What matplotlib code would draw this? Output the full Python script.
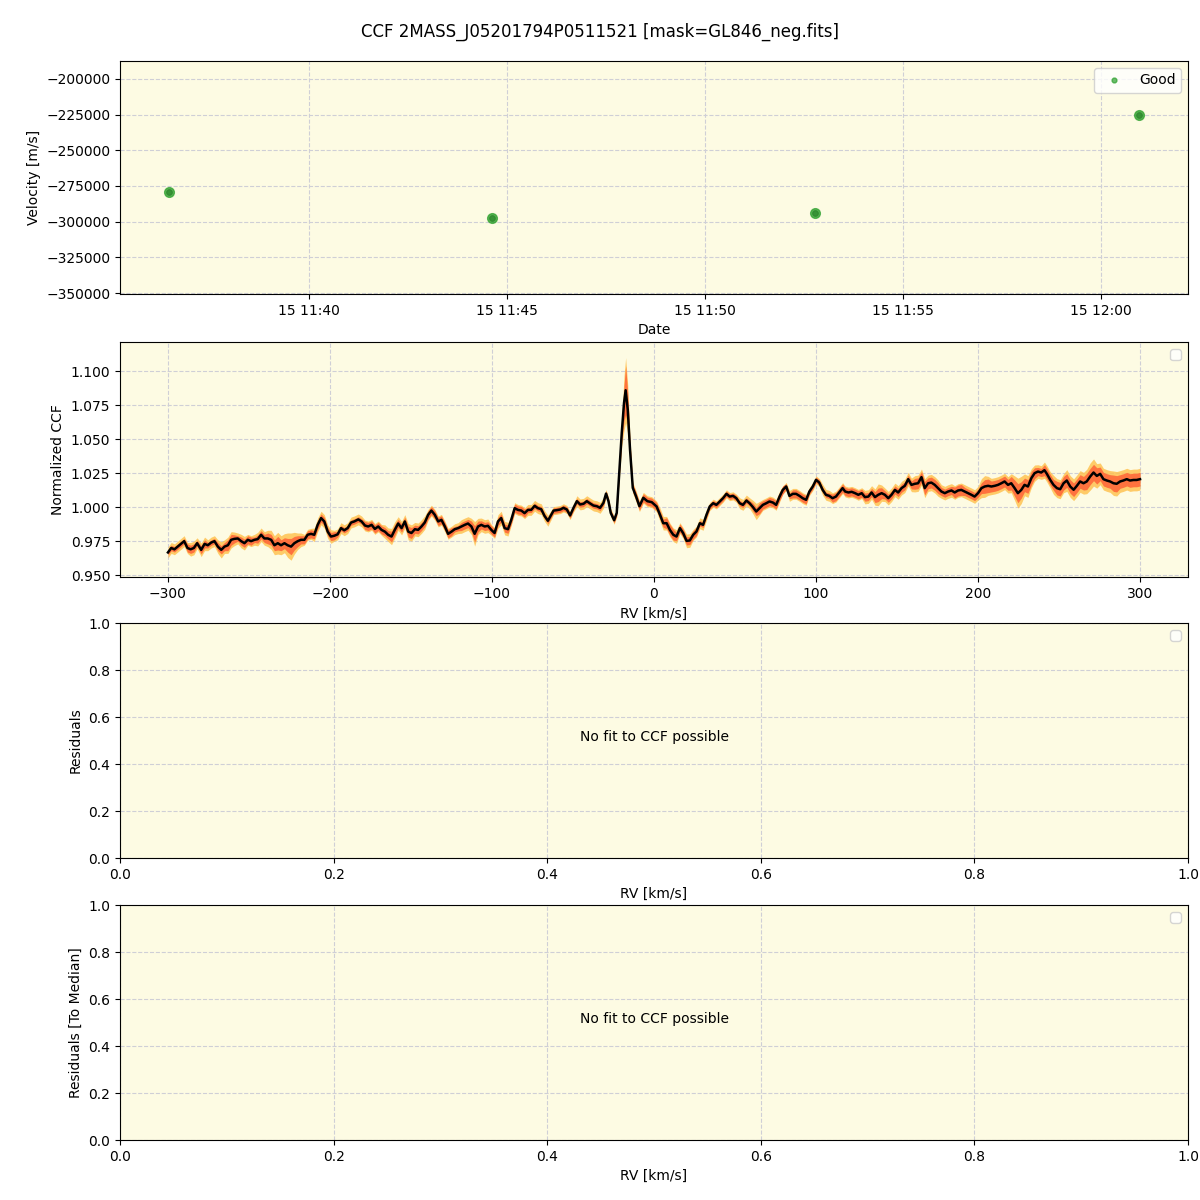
import datetime as dt
import warnings
import matplotlib
matplotlib.use("Agg")
import matplotlib.pyplot as plt
import matplotlib.dates as mdates
import numpy as np

title = "CCF 2MASS_J05201794P0511521 [mask=GL846_neg.fits]"

obs_times = ["2023-01-15 11:36:28", "2023-01-15 11:44:37",
             "2023-01-15 11:52:47", "2023-01-15 12:00:58"]
velocities = [-279200, -297400, -294000, -225200]

rv = [-300, -298, -296, -294, -292, -290, -288, -286, -284, -282, -279.5, -277.4, -275.4, -273.3, -271.3,
      -269.2, -267.1, -265.1, -263, -261, -259, -256.9, -254.8, -252.8, -250.7, -248.7, -246.6, -244.6,
      -242.5, -240.5, -238.4, -236.3, -234.3, -232.2, -230.2, -228.1, -226.1, -224, -222, -219.9, -217.9,
      -215.8, -213.8, -211.7, -209.7, -207.6, -205.5, -203.5, -201.4, -199.4, -197.3, -195.3, -193.2,
      -191.2, -189.1, -187, -185,
      -182.5, -180.5, -178.4, -176.4, -174.3, -172.3, -170.2, -168.2, -166.1, -164.1, -162, -160, -157.9,
      -155.8, -153.8, -151.7, -149.7, -147.6, -145.6, -143.5, -141.5, -139.4, -137.4, -135.3, -133.2,
      -131.2, -129.1, -127.1, -125, -123, -120.9, -118.9, -116.8, -114.8, -112.7, -110.7, -108.6, -106.6,
      -104.5, -102.5, -100.4, -98.4, -96.3, -94.3, -92.2, -90.1, -88.1, -86, -84, -81.9, -79.9, -77.8,
      -75.8, -73.7, -71.7, -69.6, -67.6, -65.5,
      -62, -60, -57.8, -55.9, -53.8, -51.8, -49.7, -47.6, -45.6, -43.5, -41.5, -39.4, -37.4, -35.3, -33.3,
      -31.2, -29.6, -28.1, -26.7, -24.6, -23, -21.6, -19.9, -18.5, -17.5, -16.2, -14.8, -13.1, -11.1, -9,
      -6.6, -4.1, -1.4,
      1.6, 3.7, 5.7, 7.8, 9.8, 11.9, 13.9, 16, 18, 20.1, 22.1, 24.2, 26.2, 28.3, 30.3, 32.4, 34.4, 36.5,
      38.5, 40.6, 42.6, 44.7, 46.7, 48.8, 50.8, 52.9, 54.9, 57, 59, 61.1, 63.1, 65.2, 67.2, 69.3, 71.3,
      73.4, 75.4, 77.5, 79.5, 81.6, 83.6, 85.7, 87.7, 89.8, 91.8, 93.9, 95.9, 98, 100, 102, 104.1, 106.1,
      108.2, 110.2, 112.3, 114.3, 116.4,
      118, 120, 122, 124.1, 126.1, 128.2, 130.2, 132.3, 134.3, 136.4, 138.4, 140.5, 142.5, 144.6, 146.6,
      148.7, 150.7, 152.8, 154.8, 156.9, 158.9, 161, 163, 165.1, 167.1, 169.2, 171.2, 173.3, 175.3, 177.4,
      179.5, 181.5, 183.6, 185.6, 187.7, 189.7, 191.8, 193.8, 195.9, 197.9, 200, 202.1, 204.1, 206.2,
      208.2, 210.3, 212.3, 214.4, 216.4, 218.5, 220.5, 222.6, 224.6, 226.7, 228.7, 230.8, 232.9, 234.9,
      237, 239,
      241, 242.5, 244.6, 246.6, 248.7, 250.7, 252.8, 254.8, 256.9, 259, 261, 263, 265.1, 267.1, 269.2,
      271.3, 273.3, 275.4, 277.4, 279.5, 281.5, 283.6, 285.6, 287.7, 289.7, 291.8, 293.8, 295.9, 297.9, 300]

ccf = [0.9667, 0.970, 0.969, 0.971, 0.973, 0.975, 0.970, 0.969, 0.970, 0.9735, 0.9686, 0.973, 0.972, 0.974, 0.975,
       0.971, 0.9686, 0.971, 0.972, 0.976, 0.9767, 0.977, 0.975, 0.9735, 0.976, 0.975, 0.976, 0.9765,
       0.9797, 0.977, 0.977, 0.976, 0.972, 0.9735, 0.972, 0.9735, 0.972, 0.971, 0.9735, 0.975, 0.976,
       0.976, 0.9797, 0.9804, 0.9797, 0.987, 0.992, 0.9895, 0.982, 0.9784, 0.979, 0.980, 0.9846,
       0.983, 0.9846, 0.9887, 0.9895,
       0.991, 0.9895, 0.9865, 0.9858, 0.987, 0.984, 0.9858, 0.9833, 0.982, 0.9797, 0.9784, 0.9833, 0.988,
       0.9846, 0.9895, 0.982, 0.981, 0.9838, 0.9833, 0.9858, 0.9887, 0.9944, 0.9975, 0.9944, 0.9895,
       0.9907, 0.9858, 0.9804, 0.982, 0.9838, 0.9846, 0.9858, 0.987, 0.988, 0.9858, 0.9804, 0.9858, 0.987,
       0.9858, 0.9863, 0.9833, 0.981, 0.9895, 0.992, 0.9846, 0.9838, 0.9907, 0.9993, 0.998, 0.9975, 0.9956, 0.998,
       0.998, 1.001, 0.9993, 0.9985, 0.9936, 0.990,
       0.9975, 0.9978, 0.9983, 0.9995, 0.9983, 0.9939, 0.9995, 1.0044, 1.002, 1.0025, 1.0044, 1.0027, 1.0012, 1.0007, 0.9995,
       1.0032, 1.010, 1.0044, 0.9958, 0.9904, 0.9958, 1.0228, 1.0547, 1.0767, 1.086, 1.0718, 1.0424, 1.0142, 1.008, 1.0007,
       1.0069, 1.0044, 1.0037,
       1.0005, 0.9944, 0.9882, 0.9882, 0.9833, 0.9797, 0.9784, 0.9846, 0.9809, 0.9752, 0.9755, 0.9797, 0.9821, 0.9882, 0.987, 0.9944, 1.0005, 1.0029,
       1.0017, 1.0042, 1.0066, 1.0098, 1.0078, 1.0083, 1.0066, 1.0029, 1.0017, 1.0049, 1.0029, 1.000, 0.9968, 0.9993, 1.0017, 1.0029, 1.0042,
       1.0034, 1.0017, 1.0078, 1.0127, 1.0152, 1.0083, 1.0098, 1.0098, 1.0083, 1.0066, 1.0054, 1.0115, 1.0152, 1.0201, 1.0181, 1.0127, 1.0091,
       1.0083, 1.0066, 1.0078, 1.0108, 1.014,
       1.0115, 1.0108, 1.0113, 1.0103, 1.0091, 1.0103, 1.0074, 1.0078, 1.0108, 1.0074, 1.0091, 1.0103, 1.0091, 1.0066, 1.0091,
       1.0127, 1.0108, 1.014, 1.0157, 1.0206, 1.0164, 1.0172, 1.0176, 1.0221, 1.014, 1.0176, 1.0181, 1.0164, 1.014, 1.0115,
       1.0103, 1.0115, 1.0123, 1.0108, 1.0123, 1.0127, 1.0115, 1.0103, 1.0091, 1.0078, 1.0103, 1.014, 1.0152, 1.0157,
       1.0152, 1.0157, 1.0164, 1.0176, 1.0189, 1.0164, 1.0176, 1.014, 1.0103, 1.0127, 1.0164, 1.0152, 1.0213, 1.025,
       1.0262, 1.0255,
       1.0272, 1.0245, 1.020, 1.0164, 1.014, 1.0132, 1.0176, 1.0196, 1.0152, 1.0128, 1.0157, 1.0189, 1.0176, 1.0189, 1.0225,
       1.0255, 1.023, 1.0245, 1.0206, 1.0196, 1.0189, 1.0176, 1.0172, 1.0189, 1.0196, 1.0206, 1.0196, 1.020, 1.020, 1.0206]

# band half-widths in units of 1e-3
spread_outer = [4, 4, 4, 4, 4, 4, 4, 5, 5, 4, 5, 5, 4, 4, 4,
                5, 6, 5, 6, 6, 5, 4, 5, 5, 4, 4, 4, 5,
                5, 5, 6, 7, 7, 8, 7, 7, 9, 10, 8, 6, 5,
                4, 4, 4, 5, 5, 5, 5, 5, 5, 4, 4, 4,
                4, 4, 4, 4,
                4, 4, 4, 4, 4, 4, 4, 4, 5, 5, 6, 6, 5,
                5, 5, 6, 6, 5, 5, 5, 5, 4, 4, 4, 4,
                4, 4, 4, 4, 4, 4, 5, 5, 5, 6, 9, 6, 5,
                5, 5, 4, 4, 5, 5, 5, 5, 4, 4, 4, 4, 4, 4,
                4, 4, 4, 4, 4, 4,
                3, 3, 3, 3, 3, 3, 3, 4, 4, 4, 4, 4, 4, 4, 4,
                4, 3, 3, 3, 3, 3, 5, 10, 20, 24, 18, 8, 4, 4, 4,
                4, 4, 4,
                4, 5, 5, 5, 5, 5, 5, 4, 4, 5, 5, 4, 4, 4, 4, 4, 3, 3,
                3, 3, 3, 3, 3, 3, 3, 4, 4, 4, 4, 5, 6, 5, 4, 4, 4,
                4, 4, 4, 3, 3, 4, 4, 4, 4, 4, 4, 3, 3, 3, 3, 4, 4,
                4, 4, 4, 4, 4,
                4, 4, 4, 4, 4, 4, 5, 5, 5, 6, 8, 6, 5, 5, 5,
                5, 5, 5, 5, 5, 5, 6, 6, 6, 7, 6, 6, 6, 6, 5,
                5, 5, 5, 5, 5, 5, 5, 5, 5, 5, 5, 7, 8, 7,
                6, 6, 6, 6, 6, 6, 7, 9, 11, 10, 8, 8, 7, 6,
                5, 5,
                6, 6, 6, 7, 7, 7, 7, 8, 8, 8, 8, 8, 8, 9, 10,
                10, 9, 8, 8, 8, 8, 9, 9, 8, 8, 8, 8, 8, 8, 8]

spread_inner = [2, 2, 2, 2, 2, 2, 3, 3, 3, 2, 3, 3, 2, 2, 2,
                3, 3, 3, 4, 4, 3, 2, 3, 3, 3, 3, 2, 3,
                3, 3, 4, 4, 4, 5, 4, 4, 5, 6, 5, 4, 3,
                3, 3, 3, 3, 3, 3, 3, 3, 3, 3, 2, 2,
                2, 2, 2, 2,
                2, 2, 3, 3, 3, 3, 3, 3, 3, 3, 4, 4, 3,
                3, 3, 4, 4, 3, 3, 3, 3, 3, 3, 3, 3,
                3, 3, 3, 3, 2, 2, 3, 3, 3, 4, 6, 4, 3,
                3, 3, 3, 3, 3, 3, 3, 3, 3, 3, 3, 3, 3, 2,
                2, 2, 2, 2, 2, 2,
                2, 2, 2, 2, 2, 2, 2, 2, 2, 2, 2, 2, 2, 2, 2,
                2, 2, 2, 2, 2, 2, 3, 6, 13, 18, 12, 5, 3, 3, 3,
                3, 3, 3,
                3, 3, 3, 4, 4, 4, 3, 3, 3, 3, 3, 3, 3, 2, 2, 2, 2, 2,
                2, 2, 2, 2, 2, 2, 2, 2, 2, 2, 2, 3, 3, 4, 3, 3, 3,
                3, 3, 3, 3, 2, 2, 3, 3, 3, 3, 3, 2, 2, 2, 2, 2, 2,
                2, 3, 3, 3, 3,
                3, 3, 3, 3, 3, 3, 3, 3, 3, 4, 5, 4, 3, 3, 3,
                3, 3, 3, 3, 3, 3, 4, 4, 4, 5, 4, 4, 4, 4, 3,
                3, 3, 3, 4, 4, 4, 3, 3, 3, 3, 3, 4, 5, 5,
                4, 4, 4, 4, 4, 4, 5, 6, 7, 6, 5, 5, 5, 4,
                3, 3,
                4, 4, 4, 4, 5, 5, 5, 5, 5, 5, 5, 5, 5, 6, 6,
                6, 6, 5, 5, 5, 5, 6, 6, 5, 5, 5, 5, 5, 5, 5]

bg = "#fdfbe3"
grid_kw = dict(color="#cfcfd6", linestyle="--", linewidth=0.8)

fig = plt.figure(figsize=(12, 12), dpi=100)
fig.suptitle(title, y=1 - 32 / 1200, va="center", fontsize=12)

left, width = 0.1, 0.89
ax1 = fig.add_axes([left, 0.755, width, 0.1942])
ax2 = fig.add_axes([left, 0.519, width, 0.1958])
ax3 = fig.add_axes([left, 0.285, width, 0.1958])
ax4 = fig.add_axes([left, 0.050, width, 0.1958])

for ax in (ax1, ax2, ax3, ax4):
    ax.set_facecolor(bg)
    ax.grid(True, **grid_kw)
    ax.set_axisbelow(True)

# Panel 1: velocities vs time
times = [dt.datetime.strptime(t, "%Y-%m-%d %H:%M:%S") for t in obs_times]
ax1.plot(times, velocities, "o", color="#2ca02c", ms=7, alpha=0.75, zorder=3)
ax1.plot(times, velocities, "o", color="#2e8b2e", ms=4, alpha=0.8, zorder=4)
ax1.plot([], [], "o", color="#2ca02c", ms=3.5, alpha=0.7, label="Good")
ax1.legend(loc="upper right")
ax1.set_ylim(-350700, -187400)
ax1.set_yticks(np.arange(-350000, -199999, 25000))
ax1.xaxis.set_major_locator(mdates.MinuteLocator(byminute=range(0, 60, 5)))
ax1.xaxis.set_major_formatter(mdates.DateFormatter("%d %H:%M"))
ax1.margins(x=0.05)
ax1.set_xlabel("Date")
ax1.set_ylabel("Velocity [m/s]")

# Panel 2: CCF
rv_a = np.array(rv)
ccf_a = np.array(ccf)
so = np.array(spread_outer) * 1e-3
si = np.array(spread_inner) * 1e-3
ax2.fill_between(rv_a, ccf_a - so, ccf_a + so, color="#ffbf4a", alpha=0.8, lw=0, zorder=2)
ax2.fill_between(rv_a, ccf_a - si, ccf_a + si, color="#ff5530", alpha=0.75, lw=0, zorder=3)
ax2.plot(rv_a, ccf_a, color="black", lw=1.8, zorder=4)
ax2.set_xlim(-329.6, 329.6)
ax2.set_ylim(0.9485, 1.1213)
ax2.set_xticks([-300, -200, -100, 0, 100, 200, 300])
ax2.set_yticks([0.950, 0.975, 1.000, 1.025, 1.050, 1.075, 1.100])
ax2.set_xlabel("RV [km/s]")
ax2.set_ylabel("Normalized CCF")

with warnings.catch_warnings():
    warnings.simplefilter("ignore")
    ax2.legend(loc="upper right")
    ax3.legend(loc="upper right")
    ax4.legend(loc="upper right")

for ax, ylabel in ((ax3, "Residuals"), (ax4, "Residuals [To Median]")):
    ax.set_xlim(0, 1)
    ax.set_ylim(0, 1)
    ax.text(0.5, 0.5, "No fit to CCF possible", ha="center", transform=ax.transAxes)
    ax.set_xlabel("RV [km/s]")
    ax.set_ylabel(ylabel)

fig.savefig("out.png", dpi=100)
